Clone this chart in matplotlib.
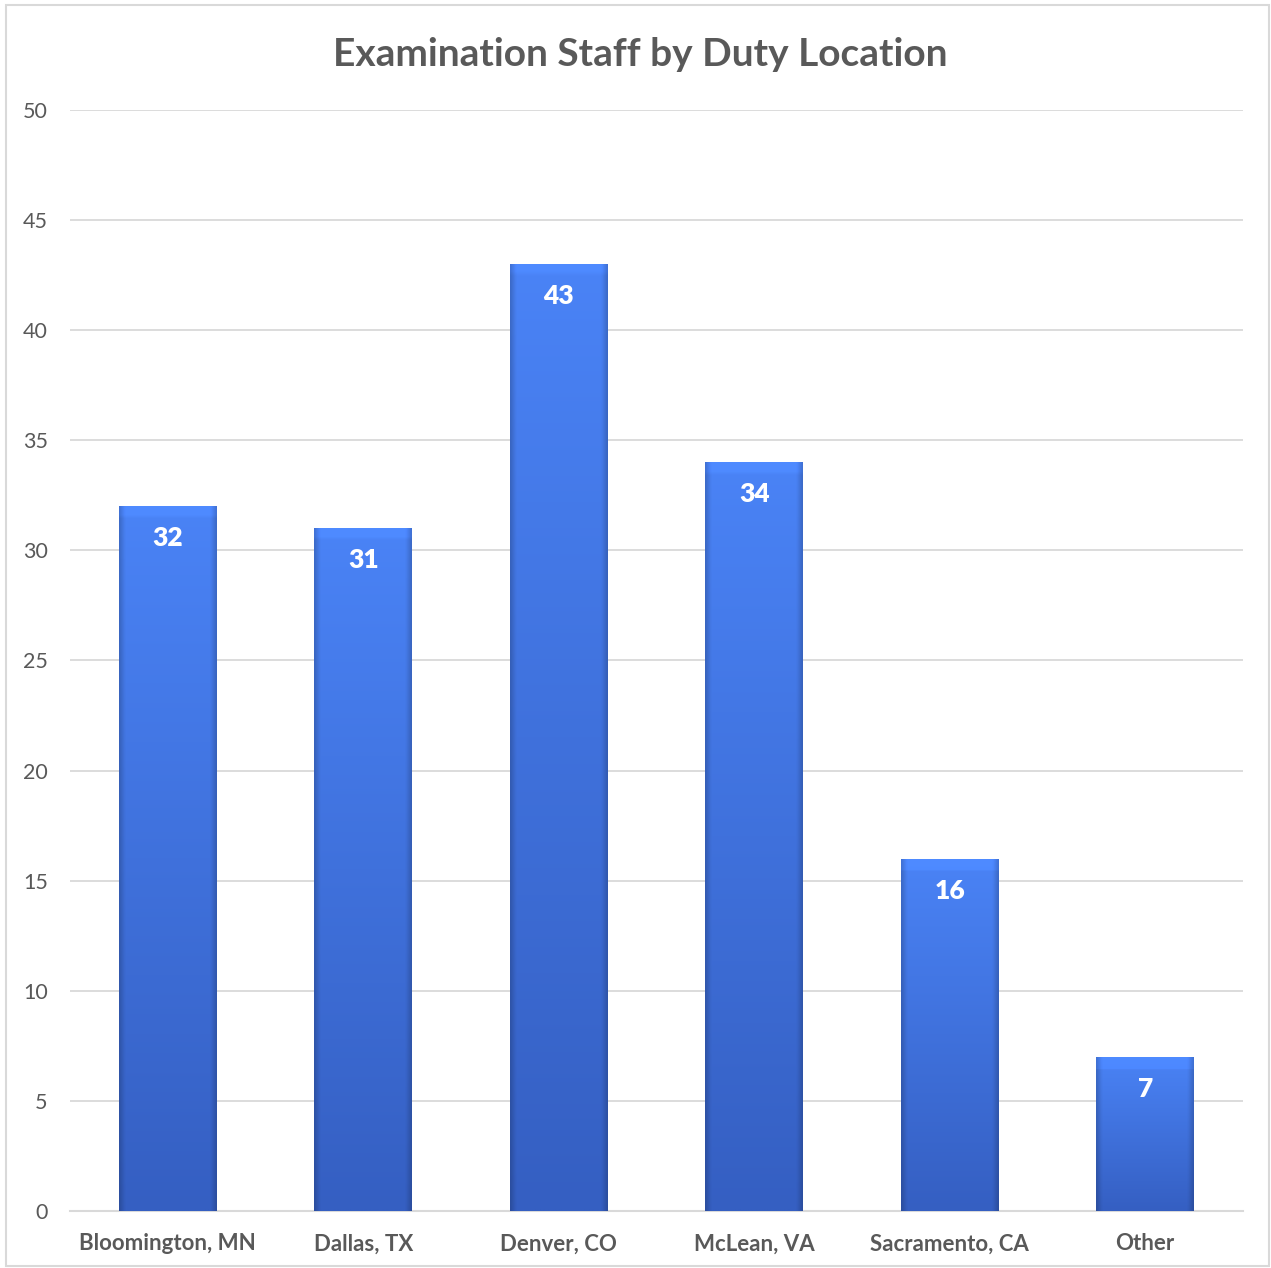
import numpy as np
import matplotlib.pyplot as plt
from matplotlib.patches import Rectangle

locations = ["Bloomington, MN", "Dallas, TX", "Denver, CO", "McLean, VA", "Sacramento, CA", "Other"]
staff = [32, 31, 43, 34, 16, 7]
yticks = [0, 5, 10, 15, 20, 25, 30, 35, 40, 45, 50]

plt.rcParams['font.family'] = ['Lato', 'DejaVu Sans']

fig = plt.figure(figsize=(12.71, 12.68), dpi=100)
ax = fig.add_axes([70 / 1271, 57 / 1268, 1173 / 1271, 1101 / 1268])

# light frame around the chart area
fig.patches.append(Rectangle((6 / 1271, 2 / 1268), 1263 / 1271, 1261 / 1268,
                             transform=fig.transFigure, fill=False,
                             edgecolor='#d9d9d9', lw=1.5))

x = np.arange(len(locations))
bars = ax.bar(x, staff, width=0.5, color='none', zorder=3)

# gradient fill: lighter at top, darker at bottom, shaded bevel edges
top = np.array([0x4a, 0x83, 0xf6]) / 255
bot = np.array([0x35, 0x5f, 0xc2]) / 255
for b, v in zip(bars, staff):
    h = 200
    w = 60
    t = np.linspace(0, 1, h)[:, None, None]
    img = top * (1 - t) + bot * t
    img = np.repeat(img, w, axis=1)
    xs = np.linspace(0, 1, w)
    edge = np.minimum(xs, 1 - xs)
    shade = np.where(edge < 0.06, 0.82 + 0.18 * edge / 0.06, 1.0)
    img = img * shade[None, :, None]
    # top bevel a bit lighter
    top_rows = int(h * 0.6 / max(v, 1))
    img[:max(top_rows, 2)] = np.clip(img[:max(top_rows, 2)] * 1.06, 0, 1)
    x0 = b.get_x()
    im = ax.imshow(img, extent=(x0, x0 + b.get_width(), 0, v), aspect='auto',
                   zorder=3, interpolation='bilinear')
    im.set_clip_path(b)
    ax.text(b.get_x() + b.get_width() / 2, v - 1.45, str(v), ha='center', va='center',
            color='white', fontsize=19, fontweight='heavy', zorder=5)

ax.set_xlim(-0.5, len(locations) - 0.5)
ax.set_ylim(0, 50)
ax.set_yticks(yticks)
ax.set_xticks(x)
ax.set_xticklabels(locations, fontsize=16, fontweight='bold', color='#595959')
ax.tick_params(axis='y', labelsize=15.5, labelcolor='#595959', length=0, pad=16)
ax.tick_params(axis='x', length=0, pad=16)
ax.grid(axis='y', color='#d9d9d9', lw=1.3, zorder=0)
ax.set_axisbelow(True)
for s in ['top', 'right', 'left']:
    ax.spines[s].set_visible(False)
ax.spines['bottom'].set_color('#d9d9d9')
ax.spines['bottom'].set_linewidth(1.5)

fig.text(640 / 1271, 1 - 55 / 1268, "Examination Staff by Duty Location", ha='center', va='center',
         fontsize=28, fontweight='bold', color='#595959')

fig.savefig("out.png", dpi=100)
